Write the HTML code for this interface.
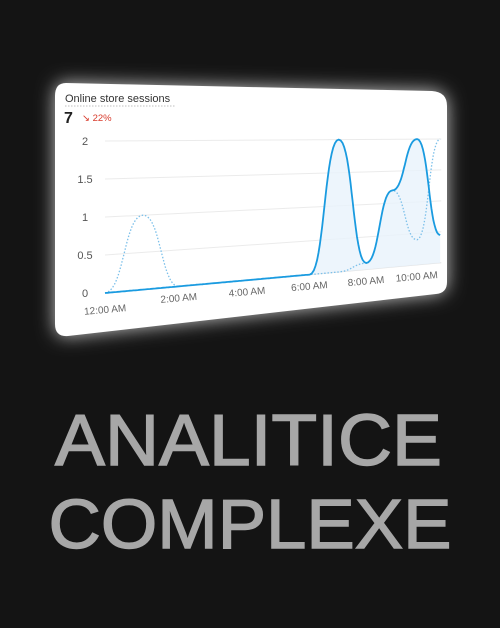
<!DOCTYPE html>
<html><head><meta charset="utf-8"><style>
html,body{margin:0;padding:0;background:#141414;width:500px;height:628px;overflow:hidden}
svg{display:block}
</style></head><body>
<svg width="500" height="628" viewBox="0 0 500 628">
<defs>
<filter id="glow" x="-20%" y="-30%" width="140%" height="160%">
<feGaussianBlur stdDeviation="9" in="SourceAlpha" result="b"/>
<feFlood flood-color="#ffffff" flood-opacity="0.75"/>
<feComposite in2="b" operator="in" result="g"/>
<feMerge><feMergeNode in="g"/><feMergeNode in="SourceGraphic"/></feMerge>
</filter>
<clipPath id="cardclip"><path d="M66,83 L432,91 Q447,92 447,106 L447,282 Q447,293 436,294 L68,336 Q55,337 55,324 L55,96 Q55,83 66,83 Z"/></clipPath>
</defs>
<path filter="url(#glow)" fill="#ffffff" d="M66,83 L432,91 Q447,92 447,106 L447,282 Q447,293 436,294 L68,336 Q55,337 55,324 L55,96 Q55,83 66,83 Z"/>
<g clip-path="url(#cardclip)">
<text x="65" y="102" font-family="Liberation Sans, sans-serif" font-size="11" fill="#333">Online store sessions</text>
<line x1="65" y1="106" x2="175" y2="106" stroke="#aaa" stroke-dasharray="1.5,1.5" stroke-width="0.8"/>
<text x="64" y="123" font-family="Liberation Sans, sans-serif" font-size="16" font-weight="bold" fill="#222">7</text>
<text x="82" y="121" font-family="Liberation Sans, sans-serif" font-size="9.5" fill="#d83a2b">↘ 22%</text>
<g id="chart"></g>
</g>
<text x="248.5" y="465" text-anchor="middle" textLength="387" lengthAdjust="spacingAndGlyphs" font-family="Liberation Sans, sans-serif" font-size="72" fill="#a7a7a7" stroke="#a7a7a7" stroke-width="1.4">ANALITICE</text>
<text x="250" y="548" text-anchor="middle" textLength="403" lengthAdjust="spacingAndGlyphs" font-family="Liberation Sans, sans-serif" font-size="70" fill="#a7a7a7" stroke="#a7a7a7" stroke-width="1.4">COMPLEXE</text>
</svg>
<script>
const hours = [0,1,2,3,4,5,6,7,8,9,10,11];
const currentSeries = [0,0,0,0,0,0,0,2,0.1,1.2,2,0.45];
const previousSeries = [0,1,0,0,0,0,0,0,0.1,1.2,0.4,2];
const yTicks = [0,0.5,1,1.5,2];
const yTickLabels = ['0','0.5','1','1.5','2'];
const xTickHours = [0,2,4,6,8,10];
const xTickLabels = ['12:00 AM','2:00 AM','4:00 AM','6:00 AM','8:00 AM','10:00 AM'];

const NS='http://www.w3.org/2000/svg';
const g=document.getElementById('chart');
function xs(h){return 105+38.5*h-0.73*h*h;}
function topY(px){return 141-(px-105)*0.006;}
function botY(px){return 293-(px-105)*0.09;}
function P(h,v){const px=xs(h);const t=topY(px),b=botY(px);return [px,b-(v/2)*(b-t)];}
function mk(tag,attrs){const e=document.createElementNS(NS,tag);for(const k in attrs)e.setAttribute(k,attrs[k]);g.appendChild(e);return e;}
function sample(vals){
  const pts=[];
  for(let i=0;i<hours.length-1;i++){
    const h0=hours[i],h1=hours[i+1],v0=vals[i],v1=vals[i+1],hm=(h0+h1)/2;
    for(let s=0;s<20;s++){const t=s/20,u=1-t;
      const h=u*u*u*h0+3*u*u*t*hm+3*u*t*t*hm+t*t*t*h1;
      const v=u*u*u*v0+3*u*u*t*v0+3*u*t*t*v1+t*t*t*v1;
      pts.push(P(h,v));}
  }
  const n=hours.length-1;pts.push(P(hours[n],vals[n]));return pts;
}
const xEnd=11.05;
yTicks.forEach((v,i)=>{
  const a=P(0,v),b=P(xEnd,v);
  const l=mk('line',{x1:a[0],y1:a[1],x2:b[0],y2:b[1],stroke:v===0?'#e3e3e3':'#ebebeb','stroke-width':1});
  
  
  const t=mk('text',{x:a[0]-20,y:a[1]+4,'text-anchor':'middle','font-family':'Liberation Sans, sans-serif','font-size':'11',fill:'#555'});
  t.textContent=yTickLabels[i];
  
  
});
xTickHours.forEach((h,i)=>{
  const p=P(h,0);
  const t=mk('text',{x:p[0],y:p[1]+(i===0?20:15),'text-anchor':'middle','font-family':'Liberation Sans, sans-serif','font-size':'10',fill:'#666',transform:'rotate(-5 '+p[0]+' '+(p[1]+15)+')'});
  t.textContent=xTickLabels[i];
  
  
});
const cur=sample(currentSeries),prev=sample(previousSeries);
const d=pts=>'M'+pts.map(p=>p[0].toFixed(1)+','+p[1].toFixed(1)).join(' L');
const base=[P(hours[hours.length-1],0),P(0,0)];
const area=mk('path',{d:d(cur)+' L'+base.map(p=>p[0]+','+p[1]).join(' L')+' Z',fill:'#e9f3fb',opacity:0.8});


const pl=mk('path',{d:d(prev),fill:'none',stroke:'#7cc0ea','stroke-width':1.3,'stroke-dasharray':'1.5,1.8'});


const cl=mk('path',{d:d(cur),fill:'none',stroke:'#1a9be0','stroke-width':1.8});


</script>
</body></html>
